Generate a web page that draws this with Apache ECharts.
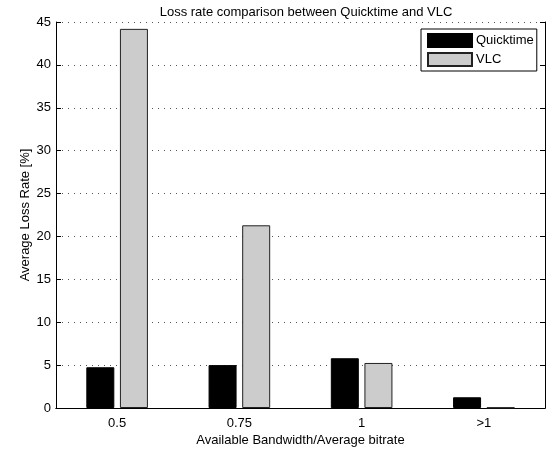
<!DOCTYPE html>
<html><head><meta charset="utf-8">
<script src="https://cdn.jsdelivr.net/npm/echarts@6/dist/echarts.min.js"></script>
<style>html,body{margin:0;padding:0;background:#fff}#c{width:552px;height:449px}</style>
</head><body><div id="c"></div>
<script>
const categories = ['0.5', '0.75', '1', '>1'];
const quicktime = [4.75, 5.0, 5.8, 1.25];
const vlc = [44.2, 21.3, 5.25, 0.05];
const yTicks = [0, 5, 10, 15, 20, 25, 30, 35, 40, 45];

const font = 'Liberation Sans, Arial, Helvetica, sans-serif';
const chart = echarts.init(document.getElementById('c'), null, {renderer: 'canvas'});
chart.setOption({
  animation: false,
  backgroundColor: '#fff',
  title: {
    text: 'Loss rate comparison between Quicktime and VLC',
    left: 301, top: 1, textAlign: 'center',
    textStyle: {fontFamily: font, fontSize: 13, fontWeight: 'normal', color: '#000'}
  },
  legend: {
    orient: 'vertical', left: 421, top: 29,
    backgroundColor: '#fff', borderColor: '#000', borderWidth: 1,
    padding: [4, 3, 4, 6], itemGap: 4, itemWidth: 44, itemHeight: 13,
    icon: 'rect',
    textStyle: {fontFamily: font, fontSize: 13, color: '#000', padding: [0, 0, 0, -1]},
    data: ['Quicktime', 'VLC']
  },
  grid: {left: 56, right: 7, top: 22, bottom: 41, containLabel: false, outerBoundsMode: 'none'},
  xAxis: [{
    type: 'category', data: categories, position: 'bottom',
    axisLine: {lineStyle: {color: '#000', width: 1}},
    axisTick: {inside: true, alignWithLabel: true, length: 5, lineStyle: {color: '#000'}},
    axisLabel: {fontFamily: font, fontSize: 13, color: '#000', margin: 9},
    name: 'Available Bandwidth/Average bitrate', nameLocation: 'middle', nameGap: 26,
    nameMoveOverlap: false,
    nameTextStyle: {fontFamily: font, fontSize: 13, color: '#000'},
    splitLine: {show: false}
  }, {
    type: 'category', data: categories, position: 'top',
    axisLine: {lineStyle: {color: '#000', width: 1}},
    axisTick: {inside: true, alignWithLabel: true, length: 5, lineStyle: {color: '#000'}},
    axisLabel: {show: false}, splitLine: {show: false}
  }],
  yAxis: [{
    type: 'value', min: 0, max: 45, interval: 5, position: 'left',
    axisLine: {show: true, lineStyle: {color: '#000', width: 1}},
    axisTick: {show: true, inside: true, length: 5, lineStyle: {color: '#000'}},
    axisLabel: {fontFamily: font, fontSize: 13, color: '#000', margin: 5,
      formatter: v => yTicks.includes(v) ? String(v) : ''},
    splitLine: {show: true, lineStyle: {color: '#555', type: [1, 5], width: 1}},
    name: 'Average Loss Rate [%]', nameLocation: 'middle', nameGap: 24,
    nameMoveOverlap: false,
    nameTextStyle: {fontFamily: font, fontSize: 13, color: '#000'}
  }, {
    type: 'value', min: 0, max: 45, interval: 5, position: 'right',
    axisLine: {show: true, lineStyle: {color: '#000', width: 1}},
    axisTick: {show: true, inside: true, length: 5, lineStyle: {color: '#000'}},
    axisLabel: {show: false}, splitLine: {show: false}
  }],
  series: [{
    name: 'Quicktime', type: 'bar', data: quicktime, barWidth: 28, barGap: '20%',
    itemStyle: {color: '#000', borderColor: '#000', borderWidth: 1}
  }, {
    name: 'VLC', type: 'bar', data: vlc, barWidth: 28,
    itemStyle: {color: '#cccccc', borderColor: '#222', borderWidth: 1}
  }]
});
</script></body></html>
